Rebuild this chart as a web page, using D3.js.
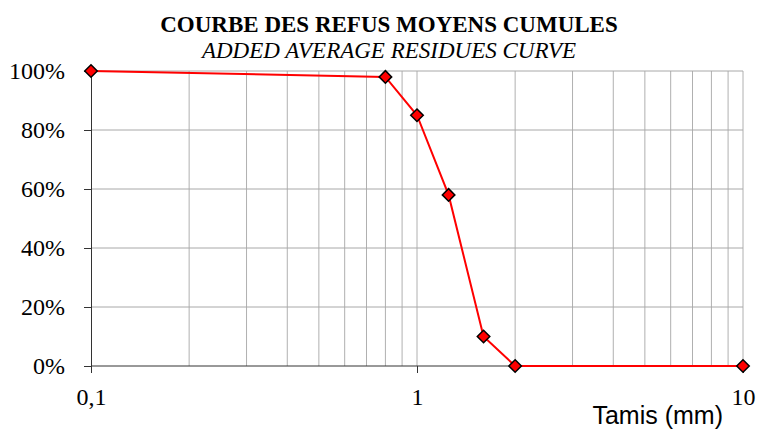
<!DOCTYPE html>
<html>
<head>
<meta charset="utf-8">
<script src="https://cdn.jsdelivr.net/npm/d3@7"></script>
<style>
  body { margin: 0; background: #fff; }
  svg { display: block; }
</style>
</head>
<body>
<svg id="chart" width="758" height="430"></svg>
<script>
// sieve sizes (mm) and cumulative residues (%)
const sieves = [0.1, 0.8, 1.0, 1.25, 1.6, 2.0, 10];
const residues = [100, 98, 85, 58, 10, 0, 0];
const yTicks = [0, 20, 40, 60, 80, 100];
const xLabelTicks = [0.1, 1, 10];
const xLabelText = ["0,1", "1", "10"];

const margin = { top: 71, right: 15, bottom: 64, left: 91 };
const svg = d3.select("#chart");
const width = +svg.attr("width");
const height = +svg.attr("height");
const serif = "'Liberation Serif', 'Times New Roman', serif";

const xScale = d3.scaleLog()
    .domain([0.1, 10])
    .range([margin.left, width - margin.right]);

const yScale = d3.scaleLinear()
    .domain([0, 100])
    .range([height - margin.bottom, margin.top]);

const data = sieves.map((s, i) => ({ x: s, y: residues[i] }));

/**
 * Gridlines
 */
const grid = svg.append("g");
const minorX = xScale.ticks().filter(v => v > 0.1 && v <= 10);
grid.selectAll(".vgrid")
    .data(minorX)
    .enter()
    .append("line")
    .attr("x1", d => xScale(d)).attr("x2", d => xScale(d))
    .attr("y1", margin.top).attr("y2", height - margin.bottom)
    .attr("stroke", "#b0b0b0")
    .attr("stroke-width", 1);

grid.selectAll(".hgrid")
    .data(yTicks.filter(d => d > 0))
    .enter()
    .append("line")
    .attr("x1", margin.left).attr("x2", width - margin.right)
    .attr("y1", d => yScale(d)).attr("y2", d => yScale(d))
    .attr("stroke", "#a8a8a8")
    .attr("stroke-width", 1);

/**
 * Axes
 */
const yAxis = d3.axisLeft(yScale)
    .tickValues(yTicks)
    .tickSize(7)
    .tickPadding(19)
    .tickFormat(d => d + "%");

svg.append("g")
    .attr("transform", "translate(" + margin.left + ",0)")
    .call(yAxis)
    .call(g => g.attr("font-size", null).attr("font-family", null))
    .call(g => g.select(".domain").attr("stroke", "#333"))
    .call(g => g.selectAll(".tick line").attr("stroke", "#333"))
    .call(g => g.selectAll("text")
        .style("font-family", serif)
        .style("font-size", "24px")
        .attr("fill", "#000"));

const xAxis = d3.axisBottom(xScale)
    .tickValues(xLabelTicks)
    .tickSize(7)
    .tickPadding(15)
    .tickFormat((d, i) => xLabelText[i]);

svg.append("g")
    .attr("transform", "translate(0," + (height - margin.bottom) + ")")
    .call(xAxis)
    .call(g => g.attr("font-size", null).attr("font-family", null))
    .call(g => g.select(".domain").attr("stroke", "#333").attr("d", "M" + margin.left + ",0H" + (width - margin.right)))
    .call(g => g.selectAll(".tick line").attr("stroke", "#333"))
    .call(g => g.selectAll("text")
        .style("font-family", serif)
        .style("font-size", "24px")
        .attr("fill", "#000"));

/**
 * Curve and markers
 */
const line = d3.line()
    .x(d => xScale(d.x))
    .y(d => yScale(d.y));

svg.append("path")
    .datum(data)
    .attr("d", line)
    .attr("fill", "none")
    .attr("stroke", "#ff0000")
    .attr("stroke-width", 2);

const diamond = d3.symbol().type(d3.symbolDiamond2).size(100);

svg.selectAll(".marker")
    .data(data)
    .enter()
    .append("path")
    .attr("class", "marker")
    .attr("d", diamond)
    .attr("transform", d => "translate(" + xScale(d.x) + "," + yScale(d.y) + ")")
    .attr("fill", "#ff0000")
    .attr("stroke", "#000")
    .attr("stroke-width", 1.5);

/**
 * Titles
 */
svg.append("text")
    .attr("x", 389).attr("y", 32)
    .attr("text-anchor", "middle")
    .style("font-family", serif)
    .style("font-weight", "bold")
    .style("font-size", "23px")
    .text("COURBE DES REFUS MOYENS CUMULES");

svg.append("text")
    .attr("x", 389).attr("y", 58)
    .attr("text-anchor", "middle")
    .style("font-family", serif)
    .style("font-style", "italic")
    .style("font-size", "23px")
    .text("ADDED AVERAGE RESIDUES CURVE");

svg.append("text")
    .attr("x", 723).attr("y", 424)
    .attr("text-anchor", "end")
    .style("font-family", "'Liberation Sans', Arial, sans-serif")
    .style("font-size", "25px")
    .text("Tamis (mm)");
</script>
</body>
</html>
